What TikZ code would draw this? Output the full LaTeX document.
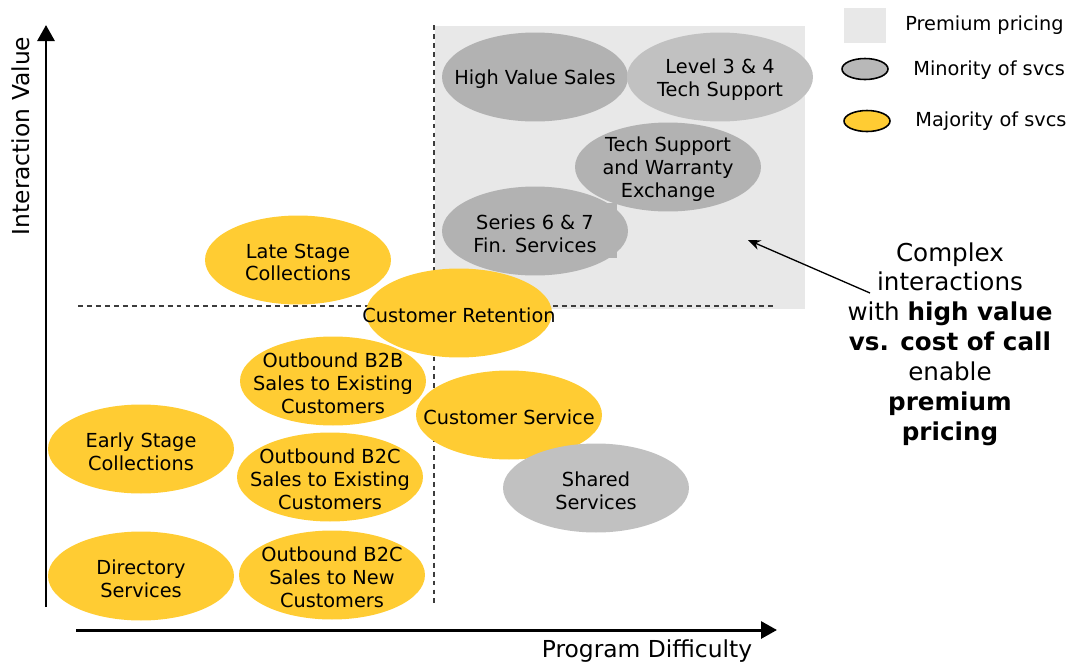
\documentclass[tikz,border=0pt]{standalone}
\usepackage{fontspec}
\setmainfont{DejaVu Sans}
\usepackage{tikz}
\usetikzlibrary{shapes.geometric, arrows.meta, positioning}
\definecolor{premiumcolor}{RGB}{232, 232, 232}
\definecolor{majorcolor}{RGB}{255, 204, 51}
\definecolor{minorcolor}{RGB}{178, 178, 178}
\definecolor{minorlight}{RGB}{193, 193, 193}
\definecolor{legendgray}{RGB}{184, 184, 184}
\definecolor{dividercolor}{RGB}{60, 60, 60}

\begin{document}
\begin{tikzpicture}[
    x=0.02cm, y=-0.02cm,
    svclabel/.style={align=center, inner sep=0pt, yshift=-0.05cm, font=\fontsize{11}{13}\selectfont},
    svc/.style={ellipse, minimum width=3.72cm, minimum height=1.78cm, inner sep=0pt, label={[svclabel]center:#1}},
    major/.style={svc={#1}, fill=majorcolor},
    minor/.style={svc={#1}, fill=minorcolor},
    minorlt/.style={svc={#1}, fill=minorlight},
    axis/.style={line width=1.7pt, -{Triangle[length=0.32cm, width=0.34cm]}},
    divider/.style={dividercolor, line width=0.85pt, dash pattern=on 2.8pt off 2.3pt},
    legendtext/.style={anchor=west, inner sep=0pt, font=\fontsize{11}{13}\selectfont},
    axislabel/.style={font=\fontsize{13.3}{15}\selectfont}
]
    \useasboundingbox (0,0) rectangle (1080,664);

    % Premium pricing quadrant
    \fill[premiumcolor] (435,26) rectangle (805,309);

    % Quadrant dividers
    \coordinate (vtop) at (434,25);
    \coordinate (vbot) at (434,607);
    \coordinate (hleft) at (78,306);
    \coordinate (hright) at (776,306);
    \draw[divider] (vtop) -- (vbot);
    \draw[divider] (hleft) -- (hright);

    % Axes
    \coordinate (ybase) at (46,607);
    \coordinate (ytop) at (46,25);
    \coordinate (xbase) at (76,630);
    \coordinate (xend) at (777,630);
    \draw[axis] (ybase) -- (ytop);
    \draw[axis] (xbase) -- (xend);
    \node[axislabel, rotate=90] (ylabel) at (21,136) {Interaction Value};
    \node[axislabel] (xlabel) at (647,651) {Program Difficulty};

    % Premium services
    \node[minor={High Value Sales}] (highvalue) at (535,77) {};
    \node[minorlt={Level 3 \& 4\\Tech Support}] (level34) at (720,77) {};
    \node[minor={Tech Support\\and Warranty\\Exchange}] (warranty) at (668,167) {};
    \fill[minorcolor] (560,203) rectangle (617,258);
    \node[minor={Series 6 \& 7\\Fin. Services}] (series67) at (535,231) {};

    % Majority services
    \node[major={Late Stage\\Collections}] (latestage) at (298,260) {};
    \node[major={Customer Retention}] (retention) at (459,313) {};
    \node[major={Outbound B2B\\Sales to Existing\\Customers}] (b2bexist) at (333,381) {};
    \node[major={Early Stage\\Collections}] (earlystage) at (141,449) {};
    \node[major={Outbound B2C\\Sales to Existing\\Customers}] (b2cexist) at (330,477) {};
    \node[major={Directory\\Services}] (directory) at (141,576) {};
    \node[major={Outbound B2C\\Sales to New\\Customers}] (b2cnew) at (332,575) {};
    \node[major={Customer Service}] (custservice) at (509,415) {};
    \node[minorlt={Shared\\Services}] (shared) at (596,488) {};

    % Legend
    \node[fill=premiumcolor, minimum width=0.84cm, minimum height=0.7cm, inner sep=0pt] (legpremium) at (865,25) {};
    \node[legendtext] (legpremiumtext) at (905,25) {Premium pricing};
    \node[ellipse, draw, line width=0.9pt, fill=legendgray, minimum width=0.92cm, minimum height=0.42cm, inner sep=0pt] (legminor) at (865,69) {};
    \node[legendtext] (legminortext) at (913,70) {Minority of svcs};
    \node[ellipse, draw, line width=0.9pt, fill=majorcolor, minimum width=0.92cm, minimum height=0.42cm, inner sep=0pt] (legmajor) at (867,121) {};
    \node[legendtext] (legmajortext) at (915,121) {Majority of svcs};

    % Callout
    \node[align=center, font=\fontsize{14}{17}\selectfont] (callout) at (950,344) {Complex\\interactions\\with \textbf{high value}\\\textbf{vs. cost of call}\\enable\\\textbf{premium}\\\textbf{pricing}};
    \coordinate (pointer) at (870,293);
    \coordinate (pricetarget) at (748,240);
    \draw[line width=0.75pt, -{Stealth[length=0.25cm, width=0.2cm]}] (pointer) -- (pricetarget);

\end{tikzpicture}
\end{document}
